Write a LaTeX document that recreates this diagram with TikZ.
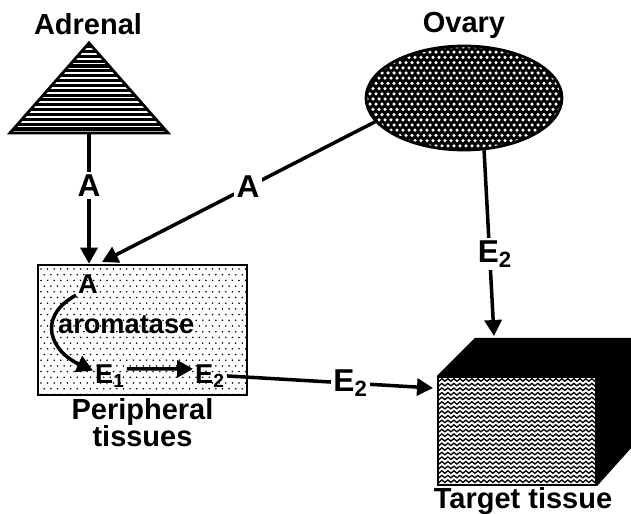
\documentclass[tikz,border=0pt]{standalone}
\usepackage{fontspec}
\setmainfont{Liberation Sans}
\usetikzlibrary{arrows.meta,positioning,shapes.geometric,decorations.pathmorphing}
\tikzset{
  flow/.style={-{Triangle[length=3.2mm,width=3.4mm]}, line width=2pt},
  lbl/.style={fill=white, inner sep=1.5pt, font=\bfseries\fontsize{18}{20}\selectfont},
  title/.style={inner sep=0pt, align=center, font=\bfseries\fontsize{16.5}{15.5}\selectfont},
  inbox/.style={inner sep=1pt, font=\bfseries\fontsize{15.5}{17}\selectfont},
  organ/.style={draw, line width=1.6pt, inner sep=0pt},
}

\begin{document}
\begin{tikzpicture}[x=0.02cm, y=-0.02cm]
  \useasboundingbox (0,0) rectangle (631,513);
  % adrenal
  \fill (10,133) -- (89,43) -- (168,133) -- cycle;
  \begin{scope}
    \clip (10,133) -- (89,43) -- (168,133) -- cycle;
    \foreach \k in {0,...,18} \draw[white,line width=1pt] (0,{49+4.85*\k}) -- (180,{49+4.85*\k});
  \end{scope}
  \draw[line width=1.6pt] (10,133) -- (89,43) -- (168,133) -- cycle;
  \coordinate (adrenal) at (89,133);
  \node[title, anchor=base] (adrenallbl) at (88,35) {Adrenal};
  % ovary
  \begin{scope}
    \clip (464,98) ellipse [x radius=1.96cm, y radius=1.04cm];
    \fill (366,46) rectangle (562,150);
    \foreach \r in {0,...,20} \foreach \c in {0,...,33}
      \fill[white] ({367+6*\c+3*mod(\r,2)},{47+5.2*\r}) circle (1pt);
  \end{scope}
  \node[organ, ellipse, minimum width=3.92cm, minimum height=2.08cm] (ovary) at (464,98) {};
  \node[title, above=3pt of ovary] (ovarylbl) {Ovary};
  % peripheral tissues
  \begin{scope}
    \clip (38,265) rectangle (247,395);
    \foreach \r in {0,...,22} \foreach \c in {0,...,32}
      \fill ({41+6.6*\c+3.3*mod(\r,2)},{269+5.7*\r}) circle (0.5pt);
  \end{scope}
  \node[organ, line width=1.5pt, minimum width=4.18cm, minimum height=2.6cm] (periph) at (142.5,330) {};
  \node[title, below=1pt of periph] (periphlbl) {Peripheral\\tissues};
  \node[inbox, anchor=base west] (pA) at (76,293) {A};
  \node[inbox, anchor=base west] (arom) at (56,333) {aromatase};
  \node[inbox, anchor=base west] (pE1) at (93,383) {E\textsubscript{1}};
  \node[inbox, anchor=base west] (pE2) at (193,383) {E\textsubscript{2}};
  \draw[flow] (pA.south west) .. controls (35,318) and (52,352) .. ([yshift=3pt]pE1.west);
  \draw[flow] ([yshift=4pt]pE1.east) -- ([yshift=4pt]pE2.west);
  % target tissue
  \begin{scope}
    \clip (438,377) rectangle (596,485);
    \foreach \r in {0,...,23}
      \draw[line width=0.75pt, decorate, decoration={snake, segment length=0.12cm, amplitude=0.025cm}]
        (434,{380+4.6*\r}) -- (602,{380+4.6*\r});
  \end{scope}
  \node[organ, line width=1.2pt, minimum width=3.16cm, minimum height=2.16cm] (target) at (517,431) {};
  \fill (target.north west) -- ++(38,-38) -- ++(158,0) -- ++(0,108) -- (target.south east) -- (target.north east) -- cycle;
  \node[title, anchor=base] (targetlbl) at (523,508) {Target tissue};
  % connectors
  \coordinate (hitA) at (102,262);
  \coordinate (hitT) at (494,336);
  \coordinate (hitF) at (433,388);
  \draw[flow] (adrenal) -- (adrenal |- periph.north) node[lbl, pos=0.4] {A};
  \draw[flow] (ovary.195) -- (hitA) node[lbl, pos=0.465] {A};
  \draw[flow] (ovary.291) -- (hitT) node[lbl, pos=0.56, xshift=3pt] {E\textsubscript{2}};
  \draw[flow] (pE2.east) -- (hitF) node[lbl, pos=0.6] {E\textsubscript{2}};
\end{tikzpicture}
\end{document}
